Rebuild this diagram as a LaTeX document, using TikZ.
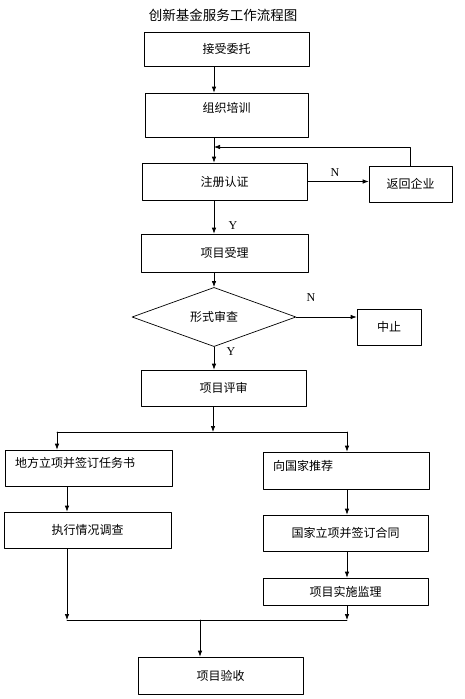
\documentclass[tikz,border=0pt]{standalone}
\usepackage{fontspec}
\setmainfont{Liberation Serif}
\newfontfamily\cjk{Noto Sans CJK SC}
\usetikzlibrary{arrows.meta,shapes.geometric}
\begin{document}
\begin{tikzpicture}[x=1pt, y=-1pt, line cap=round, line join=round, line width=0.7pt,
  box/.style={draw, font=\cjk\fontsize{12}{14}\selectfont, inner sep=0pt},
  leftbox/.style={box, inner xsep=10pt, align=left, text depth=11pt},
  arr/.style={-{Latex[length=6pt,width=4.5pt]}},
  yn/.style={font=\fontsize{12}{14}\selectfont}]
  \useasboundingbox (0,0) rectangle (464,699);
  \node[font=\cjk\fontsize{13.5}{16}\selectfont] (title) at (223,15) {创新基金服务工作流程图};
  \foreach \n/\x/\y/\w/\h/\t in {entrust/226.5/49/165/34/接受委托,
      register/224.5/181.5/165/37/注册认证, back/410.5/184/83/36/返回企业,
      intake/224.5/253/167/38/项目受理, stop/389/327/64/36/中止,
      review/223.5/388/165/36/项目评审, survey/87.5/530/167/36/执行情况调查,
      contract/345.5/533/165/36/国家立项并签订合同, monitor/345.5/591.5/165/27/项目实施监理,
      final/220.5/675.5/165/37/项目验收}{
    \node[box, minimum width=\w pt, minimum height=\h pt] (\n) at (\x,\y) {\t};
  }
  \node[box, minimum width=163pt, minimum height=44pt, text depth=15pt] (train) at (226.5,115) {组织培训};
  \node[leftbox, text width=147pt, minimum height=36pt] (local) at (88.5,468) {地方立项并签订任务书};
  \node[leftbox, text width=146pt, minimum height=37pt] (nation) at (346,470.5) {向国家推荐};
  \node[box, diamond, minimum width=164pt, minimum height=53pt] (check) at (214,317) {形式审查};
  \coordinate (m) at (214,0);
  \coordinate (fb) at (214,147);
  \draw[arr] (entrust.south -| m) -- (train.north -| m);
  \draw[arr] (train.south -| m) -- (register.north -| m);
  \draw[arr] (back.north) |- (fb);
  \draw[arr] (register.east) -- (register.east -| back.west);
  \draw[arr] (register.south -| m) -- (intake.north -| m);
  \draw[arr] (intake.south -| m) -- (check.north);
  \draw[arr] (check.east) -- (check.east -| stop.west);
  \draw[arr] (check.south) -- (review.north -| check.south);
  \node[yn] (n1) at (335,173) {N};
  \node[yn] (y1) at (233,226) {Y};
  \node[yn] (n2) at (311,298) {N};
  \node[yn] (y2) at (231,352) {Y};
  \coordinate (split) at (213,432);
  \coordinate (sl) at (57,432);
  \coordinate (sr) at (347,432);
  \draw[arr] (review.south -| split) -- (split);
  \draw (sl) -- (sr);
  \draw[arr] (sl) -- (local.north -| sl);
  \draw[arr] (sr) -- (nation.north -| sr);
  \coordinate (jl) at (67,620);
  \coordinate (jr) at (347,620);
  \coordinate (jm) at (200,620);
  \draw[arr] (local.south -| jl) -- (survey.north -| jl);
  \draw[arr] (nation.south -| sr) -- (contract.north -| sr);
  \draw[arr] (contract.south -| sr) -- (monitor.north -| sr);
  \draw[arr] (survey.south -| jl) -- (jl);
  \draw[arr] (monitor.south -| jr) -- (jr);
  \draw (jl) -- (jr);
  \draw[arr] (jm) -- (final.north -| jm);
\end{tikzpicture}
\end{document}
